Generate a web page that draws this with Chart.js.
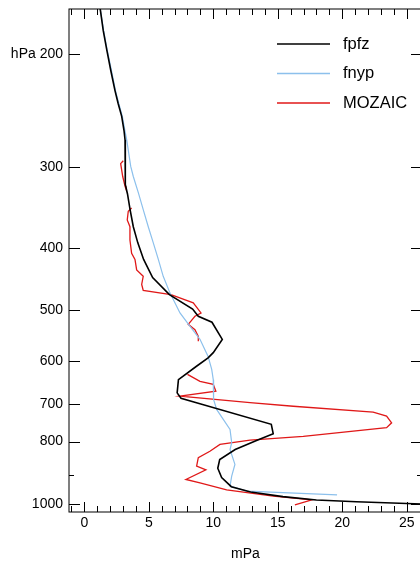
<!DOCTYPE html>
<html>
<head>
<meta charset="utf-8">
<script src="https://cdn.jsdelivr.net/npm/chart.js@4/dist/chart.umd.min.js"></script>
<style>
  html, body { margin: 0; padding: 0; background: #fff; overflow: hidden; }
  #wrap { width: 420px; height: 561px; overflow: hidden; }
</style>
</head>
<body>
<div id="wrap"><canvas id="profile" width="424" height="561"></canvas></div>
<script>
// Ozone partial pressure profiles (mPa) against pressure (hPa)
const fpfzValue    = [1.23, 1.47, 1.74, 2.05, 2.38, 2.63, 2.9, 3.08, 3.16, 3.16, 3.2, 3.35, 3.55, 3.8, 4.15, 4.6, 5.3, 6.6, 8.4, 8.84, 9.9, 10.7, 10.0, 9.6, 8.7, 7.3, 7.2, 7.5, 8.9, 14.5, 14.65, 13.4, 11.7, 10.5, 10.35, 10.65, 11.4, 12.9, 15.4, 18.0, 21.1, 25.0, 27.0];
const fpfzPressure = [170, 184, 197, 212, 228, 239, 250, 263, 272, 299, 319, 330, 349, 371, 393, 417, 445, 473, 498, 511, 522, 555, 582, 593, 611, 641, 672, 685, 698, 752, 778, 796, 823, 853, 880, 910, 940, 958, 974, 986, 992, 998, 1001];

const fnypValue    = [1.23, 1.5, 1.77, 2.1, 2.42, 2.68, 2.95, 3.15, 3.29, 3.6, 3.8, 4.2, 4.57, 4.96, 5.35, 5.74, 6.12, 6.64, 7.42, 8.2, 8.97, 9.6, 9.88, 10.0, 10.0, 10.05, 10.26, 11.3, 11.43, 11.3, 11.68, 11.43, 11.3, 12.6, 19.6];
const fnypPressure = [170, 184, 197, 212, 228, 239, 250, 263, 272, 299, 310, 329, 349, 371, 393, 417, 443, 470, 505, 530, 555, 590, 618, 641, 664, 688, 713, 766, 803, 823, 868, 905, 938, 955, 968];

// null entries mark breaks in the aircraft record
const mozaicValue    = [3.02, 2.82, 2.98, 3.16, 3.23, null, 3.67, 3.41, 3.33, 3.54, 3.54, 3.67, 3.93, 4.06, 4.57, 4.45, 4.57, 6.72, 8.45, 9.05, 8.58, 8.06, 8.58, 8.84, 8.84, null, 8.0, 8.97, 10.0, 10.2, 7.42, 12.85, 16.2, 22.4, 23.44, 23.83, 23.44, 16.98, 12.85, 10.52, 9.74, 8.84, 8.71, 9.43, 7.88, 8.97, 11.04, 14.65, 17.65, 16.33];
const mozaicPressure = [293, 296, 310, 321, 324, null, 347, 351, 362, 371, 389, 408, 417, 433, 443, 456, 466, 473, 487, 505, 511, 526, 536, 549, 559, null, 629, 645, 652, 668, 680, 696, 705, 720, 730, 748, 761, 785, 796, 808, 828, 847, 873, 885, 916, 927, 951, 972, 985, 1003];

const seriesNames  = ['fpfz', 'fnyp', 'MOZAIC'];
const seriesColors = ['#000000', '#8cc0ec', '#e01818'];

const xLabelTicks  = [0, 5, 10, 15, 20, 25];
const xMinorTicks  = [-1, 0, 1, 2, 3, 4, 5, 6, 7, 8, 9, 10, 11, 12, 13, 14, 15, 16, 17, 18, 19, 20, 21, 22, 23, 24, 25, 26];
const pressureTicks = [200, 300, 400, 500, 600, 700, 800, 1000];
const pressureMinor = [900];

const FONT = "'Liberation Sans', Arial, Helvetica, sans-serif";
Chart.defaults.font.family = FONT;
Chart.defaults.color = '#000';

function toPoints(values, pressures) {
  return values.map((v, i) => (v === null ? { x: null, y: null } : { x: v, y: pressures[i] }));
}

// Frame round the plot with inward-pointing ticks on all four sides
const frameTicks = {
  id: 'frameTicks',
  afterDraw(chart) {
    const { ctx, chartArea: a, scales: { x, y } } = chart;
    ctx.save();
    ctx.strokeStyle = '#000';
    ctx.lineWidth = 1;
    ctx.strokeRect(a.left, a.top, a.right - a.left, a.bottom - a.top);
    ctx.beginPath();
    xMinorTicks.forEach(v => {
      const px = Math.round(x.getPixelForValue(v)) + 0.5;
      const len = xLabelTicks.includes(v) ? 10 : 6;
      ctx.moveTo(px, a.bottom); ctx.lineTo(px, a.bottom - len);
      ctx.moveTo(px, a.top); ctx.lineTo(px, a.top + len);
    });
    const yTick = (v, len) => {
      const py = Math.round(y.getPixelForValue(v)) + 0.5;
      ctx.moveTo(a.left, py); ctx.lineTo(a.left + len, py);
      ctx.moveTo(a.right, py); ctx.lineTo(a.right - len, py);
    };
    pressureTicks.forEach(v => yTick(v, 11));
    pressureMinor.forEach(v => yTick(v, 5));
    ctx.stroke();
    ctx.restore();
  }
};

// Key drawn inside the upper right of the plot
const keyBox = {
  id: 'keyBox',
  afterDraw(chart) {
    const { ctx } = chart;
    ctx.save();
    ctx.font = '16.5px ' + FONT;
    ctx.textBaseline = 'middle';
    ctx.textAlign = 'left';
    seriesNames.forEach((name, i) => {
      const yy = 44 + i * 29.5;
      ctx.strokeStyle = seriesColors[i];
      ctx.lineWidth = 1.3;
      ctx.beginPath();
      ctx.moveTo(277, yy); ctx.lineTo(330, yy);
      ctx.stroke();
      ctx.fillStyle = '#000';
      ctx.fillText(name, 343, yy);
    });
    ctx.restore();
  }
};

new Chart(document.getElementById('profile'), {
  type: 'scatter',
  data: {
    datasets: [
      { label: seriesNames[0], data: toPoints(fpfzValue, fpfzPressure), borderColor: seriesColors[0], borderWidth: 1.6 },
      { label: seriesNames[1], data: toPoints(fnypValue, fnypPressure), borderColor: seriesColors[1], borderWidth: 1.2 },
      { label: seriesNames[2], data: toPoints(mozaicValue, mozaicPressure), borderColor: seriesColors[2], borderWidth: 1.3 }
    ].map(d => Object.assign(d, { showLine: true, pointRadius: 0, spanGaps: false, tension: 0, backgroundColor: d.borderColor }))
  },
  options: {
    responsive: false,
    animation: false,
    devicePixelRatio: 1,
    layout: { padding: { top: 9, right: 2, bottom: 0, left: 0 } },
    plugins: { legend: { display: false }, tooltip: { enabled: false } },
    scales: {
      x: {
        type: 'linear',
        position: 'bottom',
        min: -1.186,
        max: 26.186,
        afterBuildTicks: s => { s.ticks = xLabelTicks.map(v => ({ value: v })); },
        afterFit: s => { s.height = 49; s.paddingLeft = 0; s.paddingRight = 0; },
        grid: { display: false, drawTicks: false },
        border: { display: false },
        ticks: { font: { size: 14 }, color: '#000', padding: 3, maxRotation: 0, autoSkip: false },
        title: { display: true, text: 'mPa', font: { size: 14, lineHeight: 1 }, color: '#000', padding: { top: 1, bottom: 0 } }
      },
      y: {
        type: 'logarithmic',
        reverse: true,
        min: 170.3,
        max: 1029,
        afterBuildTicks: s => { s.ticks = pressureTicks.map(v => ({ value: v })); },
        afterFit: s => { s.width = 69; s.paddingTop = 0; s.paddingBottom = 0; },
        grid: { display: false, drawTicks: false },
        border: { display: false },
        ticks: {
          font: { size: 14 }, color: '#000', padding: 6, autoSkip: false,
          callback: v => (v === 200 ? 'hPa 200' : String(v))
        }
      }
    }
  },
  plugins: [frameTicks, keyBox]
});
</script>
</body>
</html>
